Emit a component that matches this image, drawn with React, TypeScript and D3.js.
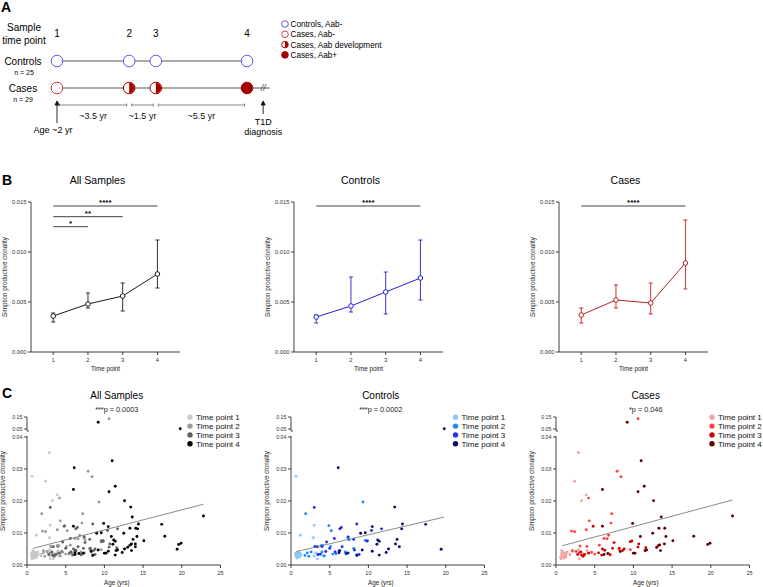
import * as d3 from "d3";

const W = 763;
const H = 587;
const FONT = "Arial, 'Liberation Sans', sans-serif";

// ---------- panel A (study design) ----------
const sampleLabels = ["1", "2", "3", "4"];
const timelinePos = [0, 3.8, 5.2, 10]; // schematic spacing of the four samples
const intervalLabels = ["~3.5 yr", "~1.5 yr", "~5.5 yr"];
const caseStates = ["open", "half", "half", "full"];
const legendA = ["Controls, Aab-", "Cases, Aab-", "Cases, Aab development", "Cases, Aab+"];
const legendAStyle = ["ctrl", "open", "half", "full"];

// ---------- panel B (mean clonality per time point) ----------
const timePoints = [1, 2, 3, 4];
const allMean = [0.0036, 0.0048, 0.0056, 0.0078];
const allLow = [0.003, 0.0044, 0.0041, 0.0064];
const allHigh = [0.0039, 0.0059, 0.0069, 0.0112];
const ctrlMean = [0.0035, 0.0046, 0.006, 0.0074];
const ctrlLow = [0.0029, 0.004, 0.0038, 0.0052];
const ctrlHigh = [0.0037, 0.0075, 0.008, 0.0112];
const caseMean = [0.0037, 0.0052, 0.0049, 0.0089];
const caseLow = [0.0029, 0.0044, 0.0038, 0.0063];
const caseHigh = [0.0044, 0.0067, 0.0069, 0.0132];
const allSig = [
  { from: 1, to: 4, y: 0.0146, label: "****" },
  { from: 1, to: 3, y: 0.01353, label: "**" },
  { from: 1, to: 2, y: 0.01253, label: "*" },
];
const ctrlSig = [{ from: 1, to: 4, y: 0.0146, label: "****" }];
const caseSig = [{ from: 1, to: 4, y: 0.0146, label: "****" }];

// ---------- panel C (clonality vs age) : [age, clonality, time point] ----------
const controlsPoints: [number, number, number][] = [
  [0.65, 0.0277, 1], [1.2, 0.0093, 1], [3.0, 0.0124, 1], [2.9, 0.0085, 1], [3.4, 0.0019, 1],
  [3.0, 0.0028, 1], [0.6, 0.0031, 1], [0.7, 0.0025, 1], [0.8, 0.0035, 1], [0.9, 0.0028, 1],
  [1.0, 0.0033, 1], [0.75, 0.0022, 1], [1.1, 0.0038, 1], [1.2, 0.003, 1], [0.85, 0.004, 1],
  [0.6, 0.0037, 1], [1.0, 0.0024, 1], [1.3, 0.0034, 1], [0.7, 0.0029, 1], [0.95, 0.0036, 1],
  [1.15, 0.0026, 1], [0.65, 0.0033, 1], [3.2, 0.0038, 1], [4.1, 0.0029, 1],
  [1.9, 0.016, 2], [4.9, 0.0123, 2], [5.2, 0.0107, 2], [9.3, 0.0197, 2], [7.35, 0.0085, 2],
  [7.5, 0.0079, 2], [9.9, 0.0075, 2], [2.1, 0.0038, 2], [2.3, 0.0027, 2], [1.8, 0.003, 2],
  [2.6, 0.0041, 2], [3.9, 0.006, 2], [4.0, 0.0041, 2], [4.3, 0.0028, 2], [5.1, 0.0058, 2],
  [5.4, 0.0034, 2], [5.8, 0.0035, 2], [7.0, 0.0041, 2], [7.4, 0.0038, 2], [8.1, 0.0052, 2],
  [8.5, 0.0032, 2], [9.6, 0.0077, 2], [3.5, 0.0032, 2], [4.1, 0.0061, 2],
  [3.0, 0.018, 3], [6.3, 0.0113, 3], [6.5, 0.0117, 3], [8.5, 0.0128, 3], [5.6, 0.0083, 3],
  [4.6, 0.0072, 3], [7.4, 0.0088, 3], [8.1, 0.008, 3], [3.1, 0.0058, 3], [3.4, 0.0057, 3],
  [4.0, 0.0058, 3], [4.5, 0.0042, 3], [5.0, 0.0052, 3], [3.5, 0.0033, 3], [3.8, 0.0034, 3],
  [10.4, 0.0108, 3], [11.7, 0.0113, 3], [6.6, 0.0057, 3], [7.1, 0.0035, 3], [8.2, 0.0047, 3],
  [8.8, 0.0033, 3], [9.8, 0.0075, 3], [6.2, 0.0044, 3], [5.7, 0.0041, 3],
  [6.1, 0.0304, 4], [19.8, 0.052, 4], [13.4, 0.0181, 4], [17.4, 0.0127, 4], [14.4, 0.0128, 4],
  [14.3, 0.0113, 4], [10.5, 0.012, 4], [9.6, 0.0101, 4], [9.0, 0.0099, 4], [13.7, 0.008, 4],
  [13.5, 0.0066, 4], [14.0, 0.0057, 4], [19.4, 0.0049, 4], [11.2, 0.0078, 4], [11.4, 0.0074, 4],
  [11.1, 0.0065, 4], [12.6, 0.005, 4], [12.3, 0.0039, 4], [11.4, 0.0031, 4], [10.5, 0.0043, 4],
  [9.2, 0.0047, 4], [6.2, 0.0038, 4], [6.3, 0.0045, 4], [8.5, 0.003, 4], [7.3, 0.0037, 4],
];

const casesPoints: [number, number, number][] = [
  [2.9, 0.0351, 1], [2.4, 0.0262, 1], [3.3, 0.0201, 1], [3.9, 0.0219, 1], [0.6, 0.0025, 1],
  [0.7, 0.0035, 1], [0.8, 0.0042, 1], [0.9, 0.003, 1], [1.0, 0.0022, 1], [1.1, 0.0038, 1],
  [1.2, 0.0028, 1], [1.3, 0.0033, 1], [0.75, 0.0045, 1], [1.0, 0.0031, 1], [0.65, 0.0019, 1],
  [1.25, 0.0024, 1], [1.4, 0.004, 1], [0.85, 0.0027, 1], [3.0, 0.002, 1], [2.9, 0.0048, 1],
  [3.5, 0.0035, 1], [2.2, 0.0042, 1], [1.8, 0.0033, 1], [4.0, 0.0045, 1],
  [10.6, 0.135, 2], [7.9, 0.0293, 2], [8.4, 0.0276, 2], [4.2, 0.0209, 2], [7.2, 0.016, 2],
  [4.3, 0.0138, 2], [7.1, 0.0131, 2], [2.0, 0.0106, 2], [2.4, 0.0104, 2], [3.9, 0.011, 2],
  [6.8, 0.0093, 2], [6.2, 0.0083, 2], [6.6, 0.0082, 2], [5.6, 0.0062, 2], [2.1, 0.0045, 2],
  [2.6, 0.0042, 2], [3.1, 0.0059, 2], [3.0, 0.0038, 2], [4.0, 0.0058, 2], [4.6, 0.004, 2],
  [5.0, 0.0034, 2], [8.1, 0.005, 2], [9.6, 0.0048, 2],
  [4.8, 0.0121, 3], [7.5, 0.007, 3], [9.6, 0.0073, 3], [9.8, 0.0075, 3], [10.7, 0.0066, 3],
  [10.6, 0.0056, 3], [13.2, 0.006, 3], [8.2, 0.0052, 3], [8.6, 0.0045, 3], [8.8, 0.005, 3],
  [6.0, 0.005, 3], [6.3, 0.0046, 3], [5.5, 0.0038, 3], [5.9, 0.0031, 3], [3.3, 0.0031, 3],
  [3.5, 0.0027, 3], [3.7, 0.0033, 3], [4.2, 0.0037, 3], [3.2, 0.0041, 3], [2.8, 0.0033, 3],
  [7.0, 0.0032, 3], [7.3, 0.0052, 3], [11.6, 0.0054, 3],
  [9.2, 0.106, 4], [6.0, 0.0236, 4], [11.0, 0.0326, 4], [11.4, 0.0246, 4], [10.6, 0.0229, 4],
  [12.6, 0.0201, 4], [6.0, 0.0121, 4], [9.9, 0.013, 4], [13.6, 0.015, 4], [22.8, 0.0153, 4],
  [13.3, 0.0115, 4], [14.05, 0.0115, 4], [10.9, 0.0089, 4], [14.2, 0.0089, 4], [17.8, 0.009, 4],
  [12.5, 0.0099, 4], [15.1, 0.0076, 4], [14.0, 0.0066, 4], [13.4, 0.0063, 4], [13.0, 0.0055, 4],
  [13.5, 0.0045, 4], [19.6, 0.0064, 4], [19.9, 0.0068, 4], [10.2, 0.0037, 4], [10.0, 0.0037, 4],
  [11.5, 0.0045, 4], [11.7, 0.0047, 4], [6.2, 0.0033, 4], [6.7, 0.0036, 4], [8.3, 0.0042, 4],
];

const allPoints = [...controlsPoints, ...casesPoints];

const allFit = { from: 0.8, to: 22.8, intercept: 0.0047, slope: 0.000627 };
const controlsFit = { from: 0.7, to: 19.8, intercept: 0.0038, slope: 0.000565 };
const casesFit = { from: 0.8, to: 22.8, intercept: 0.0055, slope: 0.00065 };

const grayShades = ["#c9c9c9", "#9b9b9b", "#5f5f5f", "#000000"];
const blueShades = ["#8ec8f6", "#1b8cff", "#2a2af0", "#0a0a72"];
const redShades = ["#f6a3a3", "#ff4343", "#d20000", "#5c0000"];
const tpLegend = ["Time point 1", "Time point 2", "Time point 3", "Time point 4"];
const ageTicks = [0, 5, 10, 15, 20, 25];

const RED = "#a80000";
const halfArc = d3.arc<any>()({ innerRadius: 0, outerRadius: 5.4, startAngle: 0, endAngle: Math.PI });
const halfArcSmall = d3.arc<any>()({ innerRadius: 0, outerRadius: 3.1, startAngle: 0, endAngle: Math.PI });

function Marker({ x, y, kind, small }: { x: number; y: number; kind: string; small?: boolean }) {
  const r = small ? 3.3 : 5.8;
  if (kind === "ctrl")
    return <circle cx={x} cy={y} r={r} fill="#fff" stroke="#5a5af5" strokeWidth={1} />;
  return (
    <g>
      <circle cx={x} cy={y} r={r} fill={kind === "full" ? RED : "#fff"} stroke={kind === "open" ? "#d04040" : RED} strokeWidth={1} />
      {kind === "half" && <path d={(small ? halfArcSmall : halfArc) || ""} transform={`translate(${x},${y})`} fill={RED} />}
    </g>
  );
}

function PanelA() {
  const x = d3.scaleLinear().domain([0, 10]).range([57, 247]);
  const rowCtrl = 61;
  const rowCase = 88;
  return (
    <g fontFamily={FONT}>
      <text x={1} y={12} fontSize={14} fontWeight="bold">A</text>
      <text x={24} y={31} fontSize={10} textAnchor="middle">Sample</text>
      <text x={24} y={44} fontSize={10} textAnchor="middle">time point</text>
      {sampleLabels.map((s, i) => (
        <text key={s} x={x(timelinePos[i])} y={37} fontSize={10} textAnchor="middle">{s}</text>
      ))}
      <text x={23} y={65} fontSize={10} textAnchor="middle">Controls</text>
      <text x={24} y={74.5} fontSize={7} textAnchor="middle">n = 25</text>
      <text x={23} y={92} fontSize={10} textAnchor="middle">Cases</text>
      <text x={23} y={101.5} fontSize={7} textAnchor="middle">n = 29</text>

      <line x1={x(0)} x2={x(10)} y1={rowCtrl} y2={rowCtrl} stroke="#444" strokeWidth={0.9} />
      <line x1={x(0)} x2={x(11.2)} y1={rowCase} y2={rowCase} stroke="#aaa" strokeWidth={2} />
      <text x={x(10.85)} y={rowCase + 3} fontSize={9} textAnchor="middle" fill="#444" fontStyle="italic">//</text>

      {timelinePos.map((p, i) => (
        <Marker key={"c" + i} x={x(p)} y={rowCtrl} kind="ctrl" />
      ))}
      {timelinePos.map((p, i) => (
        <Marker key={"k" + i} x={x(p)} y={rowCase} kind={caseStates[i]} />
      ))}

      {intervalLabels.map((lab, i) => {
        const a = x(timelinePos[i]) + 2.5;
        const b = x(timelinePos[i + 1]) - 2.5;
        return (
          <g key={lab} stroke="#666" strokeWidth={0.8}>
            <line x1={a} x2={b} y1={105} y2={105} />
            <line x1={a} x2={a} y1={103.5} y2={106.5} />
            <line x1={b} x2={b} y1={103.5} y2={106.5} />
            <text x={(a + b) / 2} y={119} fontSize={9} textAnchor="middle" stroke="none" fill="#111">{lab}</text>
          </g>
        );
      })}

      <g stroke="#111" strokeWidth={0.9} fill="#111">
        <line x1={x(0)} x2={x(0)} y1={123} y2={104} />
        <path d={`M${x(0) - 2},${105} L${x(0)},${101} L${x(0) + 2},${105} Z`} />
        <line x1={x(10.85)} x2={x(10.85)} y1={114} y2={104} />
        <path d={`M${x(10.85) - 2},${105} L${x(10.85)},${101} L${x(10.85) + 2},${105} Z`} />
      </g>
      <text x={x(0) - 4} y={132.5} fontSize={9} textAnchor="middle">Age ~2 yr</text>
      <text x={x(10.85)} y={125} fontSize={9} textAnchor="middle">T1D</text>
      <text x={x(10.85)} y={134.5} fontSize={9} textAnchor="middle">diagnosis</text>

      {legendA.map((lab, i) => (
        <g key={lab}>
          <Marker x={285} y={24 + i * 10.3} kind={legendAStyle[i]} small />
          <text x={290.5} y={27 + i * 10.3} fontSize={8.2}>{lab}</text>
        </g>
      ))}
    </g>
  );
}

type Sig = { from: number; to: number; y: number; label: string };

function LinePanel({ x0, title, color, mean, low, high, sig }: {
  x0: number; title: string; color: string; mean: number[]; low: number[]; high: number[]; sig: Sig[];
}) {
  const x = d3.scaleLinear().domain([0.36, 4.65]).range([x0, x0 + 149]);
  const y = d3.scaleLinear().domain([0, 0.015]).range([352, 202]);
  const path = d3.line<number>().x((_, i) => x(timePoints[i])).y((d) => y(d))(mean) || "";
  const yTicks = [0, 0.005, 0.01, 0.015];
  const mid = (x0 + x0 + 149) / 2;
  return (
    <g fontFamily={FONT}>
      <text x={mid - 8} y={184} fontSize={10.5} textAnchor="middle">{title}</text>
      <line x1={x0} x2={x0} y1={y(0.015)} y2={y(0)} stroke="#111" strokeWidth={0.8} />
      <line x1={x0} x2={x0 + 149} y1={y(0)} y2={y(0)} stroke="#111" strokeWidth={0.8} />
      {yTicks.map((t) => (
        <g key={t}>
          <line x1={x0 - 3} x2={x0} y1={y(t)} y2={y(t)} stroke="#111" strokeWidth={0.8} />
          <text x={x0 - 4.5} y={y(t) + 2} fontSize={5.8} textAnchor="end" fill="#333">{d3.format(".3f")(t)}</text>
        </g>
      ))}
      {timePoints.map((t) => (
        <g key={t}>
          <line x1={x(t)} x2={x(t)} y1={y(0)} y2={y(0) + 3} stroke="#111" strokeWidth={0.8} />
          <text x={x(t)} y={y(0) + 10} fontSize={5.8} textAnchor="middle" fill="#333">{t}</text>
        </g>
      ))}
      <text x={mid} y={370.5} fontSize={6.3} textAnchor="middle" fill="#222">Time point</text>
      <text transform={`translate(${x0 - 24},${277}) rotate(-90)`} fontSize={6.3} textAnchor="middle" fill="#222">
        Simpson productive clonality
      </text>
      {sig.map((s) => (
        <g key={s.label}>
          <line x1={x(s.from)} x2={x(s.to)} y1={y(s.y)} y2={y(s.y)} stroke="#111" strokeWidth={0.8} />
          <text x={(x(s.from) + x(s.to)) / 2} y={y(s.y) - 1.2} fontSize={8} textAnchor="middle" fontWeight="bold">{s.label}</text>
        </g>
      ))}
      <path d={path} fill="none" stroke={color} strokeWidth={1} />
      {timePoints.map((t, i) => (
        <g key={t} stroke={color} strokeWidth={0.9}>
          <line x1={x(t)} x2={x(t)} y1={y(low[i])} y2={y(high[i])} />
          <line x1={x(t) - 2} x2={x(t) + 2} y1={y(low[i])} y2={y(low[i])} />
          <line x1={x(t) - 2} x2={x(t) + 2} y1={y(high[i])} y2={y(high[i])} />
          <circle cx={x(t)} cy={y(mean[i])} r={2.3} fill="#fff" strokeWidth={1} />
        </g>
      ))}
    </g>
  );
}

type Fit = { from: number; to: number; intercept: number; slope: number };

function ScatterPanel({ x0, title, pText, points, colors, fit, legendX }: {
  x0: number; title: string; pText: string; points: [number, number, number][]; colors: string[]; fit: Fit; legendX: number;
}) {
  const x = d3.scaleLinear().domain([0, 25]).range([x0, x0 + 193.5]);
  const yLow = d3.scaleLinear().domain([0, 0.04]).range([565, 437]);
  const yHigh = d3.scaleLinear().domain([0.05, 0.15]).range([429, 417]);
  const yv = (v: number) => (v > 0.04 ? yHigh(v) : yLow(v));
  const mid = x0 + 193.5 / 2;
  const fitLine = d3.line<number>().x((a) => x(a)).y((a) => yLow(fit.intercept + fit.slope * a))([fit.from, fit.to]) || "";
  return (
    <g fontFamily={FONT}>
      <text x={mid - 7} y={399} fontSize={10} textAnchor="middle">{title}</text>
      <text x={mid - 7} y={411.5} fontSize={7.3} textAnchor="middle" fill="#222">{pText}</text>
      {/* broken y axis */}
      <g stroke="#111" strokeWidth={0.8}>
        <line x1={x0} x2={x0} y1={yHigh(0.15)} y2={431} />
        <line x1={x0} x2={x0 + 2} y1={431} y2={431} />
        <line x1={x0} x2={x0} y1={yLow(0.04) - 1} y2={yLow(0)} />
        <line x1={x0} x2={x0 + 193.5} y1={yLow(0)} y2={yLow(0)} />
      </g>
      {yLow.ticks(4).map((t) => (
        <g key={t}>
          <line x1={x0 - 3} x2={x0} y1={yLow(t)} y2={yLow(t)} stroke="#111" strokeWidth={0.8} />
          <text x={x0 - 4.5} y={yLow(t) + 2} fontSize={5.3} textAnchor="end" fill="#333">{d3.format(".2f")(t)}</text>
        </g>
      ))}
      {[0.05, 0.15].map((t) => (
        <g key={t}>
          <line x1={x0 - 3} x2={x0} y1={yHigh(t)} y2={yHigh(t)} stroke="#111" strokeWidth={0.8} />
          <text x={x0 - 4.5} y={yHigh(t) + 2} fontSize={5.3} textAnchor="end" fill="#333">{d3.format(".2f")(t)}</text>
        </g>
      ))}
      {ageTicks.map((t) => (
        <g key={t}>
          <line x1={x(t)} x2={x(t)} y1={565} y2={568} stroke="#111" strokeWidth={0.8} />
          <text x={x(t)} y={575} fontSize={5.6} textAnchor="middle" fill="#333">{t}</text>
        </g>
      ))}
      <text x={mid - 7} y={584.5} fontSize={6.3} textAnchor="middle" fill="#222">Age (yrs)</text>
      <text transform={`translate(${x0 - 22},${491}) rotate(-90)`} fontSize={6.3} textAnchor="middle" fill="#222">
        Simpson productive clonality
      </text>
      {points.map(([a, v, tp], i) => (
        <circle key={i} cx={x(a)} cy={yv(v)} r={1.45} fill={colors[tp - 1]} />
      ))}
      <path d={fitLine} fill="none" stroke="#6d6d6d" strokeWidth={0.8} />
      {tpLegend.map((lab, i) => (
        <g key={lab}>
          <circle cx={legendX} cy={417.3 + i * 8.8} r={2.7} fill={colors[i]} />
          <text x={legendX + 6} y={420.2 + i * 8.8} fontSize={8} fill="#111">{lab}</text>
        </g>
      ))}
    </g>
  );
}

export default function App() {
  return (
    <svg width={W} height={H} style={{ position: "absolute", left: 0, top: 0, background: "#fff" }}>
      <rect width={W} height={H} fill="#fff" />
      <PanelA />
      <text x={2} y={185} fontSize={14} fontWeight="bold" fontFamily={FONT}>B</text>
      <LinePanel x0={31} title="All Samples" color="#1a1a1a" mean={allMean} low={allLow} high={allHigh} sig={allSig} />
      <LinePanel x0={294} title="Controls" color="#2323cf" mean={ctrlMean} low={ctrlLow} high={ctrlHigh} sig={ctrlSig} />
      <LinePanel x0={559} title="Cases" color="#bb1f24" mean={caseMean} low={caseLow} high={caseHigh} sig={caseSig} />
      <text x={2} y={398} fontSize={14} fontWeight="bold" fontFamily={FONT}>C</text>
      <ScatterPanel x0={27} title="All Samples" pText="***p = 0.0003" points={allPoints} colors={grayShades} fit={allFit} legendX={190} />
      <ScatterPanel x0={291} title="Controls" pText="***p = 0.0002" points={controlsPoints} colors={blueShades} fit={controlsFit} legendX={455.5} />
      <ScatterPanel x0={556} title="Cases" pText="*p = 0.046" points={casesPoints} colors={redShades} fit={casesFit} legendX={712} />
    </svg>
  );
}
